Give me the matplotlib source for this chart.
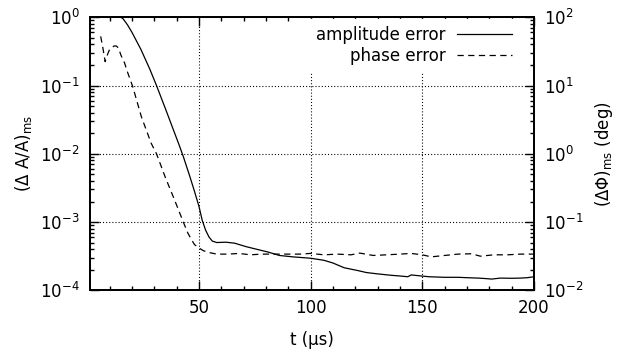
import numpy as np
import matplotlib
matplotlib.use("Agg")
import matplotlib.pyplot as plt
from matplotlib.ticker import LogLocator, MultipleLocator, FixedLocator, NullFormatter

plt.rcParams['font.family'] = ['DejaVu Sans']
plt.rcParams['lines.scale_dashes'] = False
plt.rcParams['font.size'] = 12

# --- data ---
t_amp = [10, 14, 16, 18, 20, 24, 28, 31, 35, 38, 41, 43, 46, 48, 50, 51.5, 53, 54.5, 56, 58,
         62, 66, 71, 76, 81, 86, 92, 100, 106, 110, 115, 121, 125, 130, 136, 140, 143.5, 145,
         148, 153, 160, 166, 170, 175, 179, 181, 185, 190, 194, 197, 200]
amp_err = [1.6, 1.05, 0.955, 0.776, 0.603, 0.339, 0.174, 0.100, 0.0457, 0.0251, 0.0138, 0.00912,
           0.00457, 0.00282, 0.00170, 0.00105, 0.000759, 0.000603, 0.000525, 0.000501,
           0.000507, 0.000490, 0.000437, 0.000398, 0.000363, 0.000324, 0.000309, 0.000295,
           0.000275, 0.000251, 0.000214, 0.000195, 0.000182, 0.000174, 0.000166, 0.000162,
           0.000158, 0.000168, 0.000164, 0.000158, 0.000155, 0.000155, 0.000153, 0.000151,
           0.000148, 0.000146, 0.000151, 0.000150, 0.000151, 0.000153, 0.000158]

t_phase = [6, 7, 8, 9, 10, 12, 13, 14, 15, 16.7, 18, 20.4, 24.2, 28.6, 31, 35, 39, 43, 45, 46.7,
           48, 50, 52, 55, 58, 63, 68, 73, 78, 81, 86, 90, 95, 100, 106, 112, 118, 122, 128,
           134, 140, 145, 150, 154, 160, 166, 172, 176, 182, 188, 194, 200]
phase_err = [52.5, 35.5, 22.4, 28.2, 33.9, 38.0, 38.0, 35.5, 28.2, 21.4, 15.8, 9.55, 3.51, 1.43,
             1.0, 0.447, 0.214, 0.100, 0.0692, 0.0550, 0.0468, 0.0417, 0.0380, 0.0355, 0.0339,
             0.0339, 0.0347, 0.0331, 0.0339, 0.0339, 0.0339, 0.0339, 0.0339, 0.0347, 0.0331,
             0.0339, 0.0331, 0.0351, 0.0324, 0.0331, 0.0339, 0.0347, 0.0331, 0.0309, 0.0324,
             0.0339, 0.0343, 0.0316, 0.0331, 0.0331, 0.0339, 0.0339]

x_major = [50, 100, 150, 200]

W, H = 617, 354
fig = plt.figure(figsize=(W / 100, H / 100), dpi=100)
L, R, T, B = 89.5, 534, 17.3, 290.3
ax = fig.add_axes([L / W, 1 - B / H, (R - L) / W, (B - T) / H])
ax2 = ax.twinx()

ax.set_xlim(1, 200)
ax.set_yscale('log')
ax.set_ylim(1e-4, 1)
ax2.set_yscale('log')
ax2.set_ylim(1e-2, 1e2)

ax.plot(t_amp, amp_err, color='black', lw=0.9, label='amplitude error')
ax2.plot(t_phase, phase_err, color='black', lw=0.9, linestyle=(0, (4.5, 3.2)), label='phase error')

ax.xaxis.set_major_locator(FixedLocator(x_major))
ax.xaxis.set_minor_locator(MultipleLocator(10))
for a in (ax, ax2):
    a.yaxis.set_major_locator(LogLocator(base=10, numticks=10))
    a.yaxis.set_minor_locator(LogLocator(base=10, subs=np.arange(2, 10), numticks=10))
    a.yaxis.set_minor_formatter(NullFormatter())
    for s in a.spines.values():
        s.set_linewidth(1.3)

ax.tick_params(which='both', direction='in', top=True, right=False, width=1.0)
ax.tick_params(which='major', length=6.5)
ax.tick_params(which='minor', length=3.2)
ax.tick_params(axis='x', pad=6)
ax.tick_params(axis='y', pad=7)
ax2.tick_params(which='both', direction='in', left=False, width=1.0, pad=7)
ax2.tick_params(which='major', length=6.5)
ax2.tick_params(which='minor', length=3.2)

ax.grid(True, which='major', color='black', lw=0.8, linestyle=(0, (0.75, 1.5)))

ax.set_xlabel('t (µs)')
ax.set_ylabel('(Δ A/A)$_{\\rm ms}$')
ax2.set_ylabel('(ΔΦ)$_{\\rm ms}$ (deg)')
ax.xaxis.set_label_coords(0.5, -0.15)
ax.yaxis.set_label_coords(-0.125, 0.5)
ax2.yaxis.set_label_coords(1.132, 0.5)

h1, l1 = ax.get_legend_handles_labels()
h2, l2 = ax2.get_legend_handles_labels()
leg = ax2.legend(h1 + h2, l1 + l2, loc='upper right', bbox_to_anchor=(0.966, 0.992),
                 borderaxespad=0, markerfirst=False, frameon=True, fancybox=False,
                 facecolor='white', edgecolor='white', framealpha=1,
                 handlelength=3.3, handletextpad=0.68, labelspacing=0.15, borderpad=0.4,
                 fontsize=12)

fig.savefig('out.png', dpi=100)
